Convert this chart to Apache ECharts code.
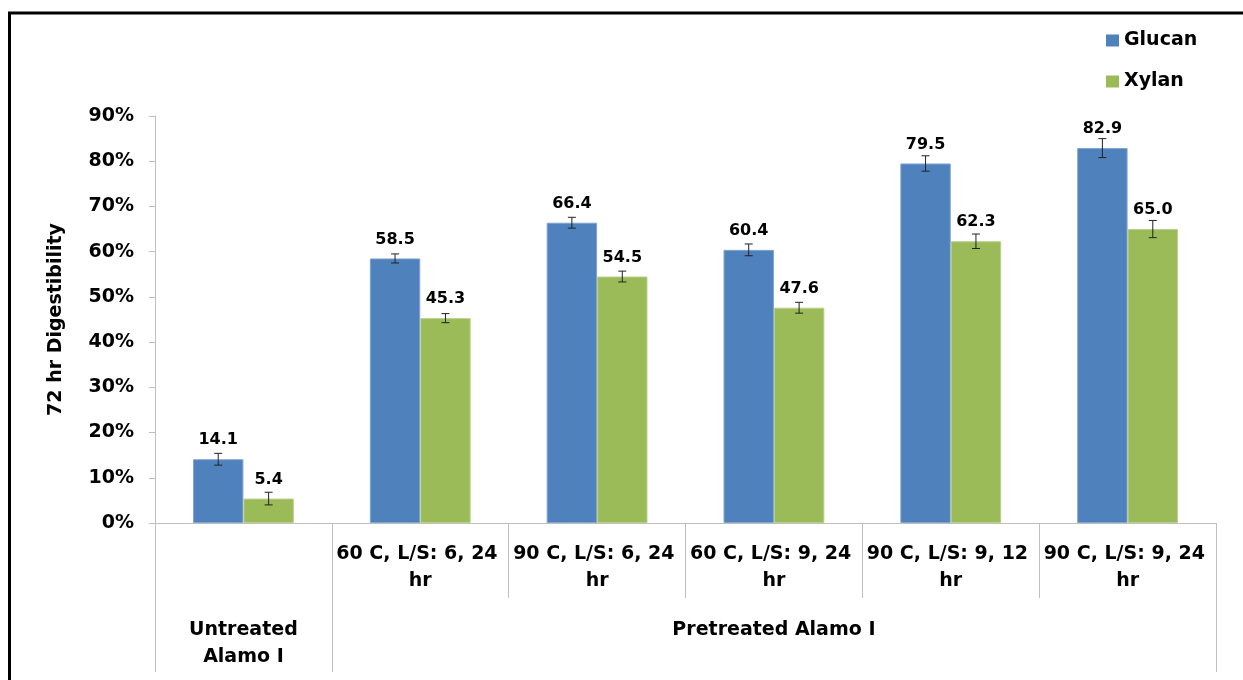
<!DOCTYPE html>
<html>
<head>
<meta charset="utf-8">
<script src="https://cdn.jsdelivr.net/npm/echarts@6/dist/echarts.min.js"></script>
<style>
  html, body { margin: 0; padding: 0; background: #fff; }
  #chart { width: 1243px; height: 680px; }
</style>
</head>
<body>
<div id="chart"></div>
<script>
// Pretreatment conditions (first-level category labels)
const categories = ['', '60 C, L/S: 6, 24 hr', '90 C, L/S: 6, 24 hr', '60 C, L/S: 9, 24 hr', '90 C, L/S: 9, 12 hr', '90 C, L/S: 9, 24 hr'];
// Sample groups: label and number of conditions each spans
const groupLabels = ['Untreated\nAlamo I', 'Pretreated Alamo I'];
const groupSpans = [1, 5];
// 72 hr digestibility (%) and standard deviation
const glucan = [14.1, 58.5, 66.4, 60.4, 79.5, 82.9];
const glucanErr = [1.3, 1.0, 1.2, 1.3, 1.7, 2.1];
const xylan = [5.4, 45.3, 54.5, 47.6, 62.3, 65.0];
const xylanErr = [1.4, 1.0, 1.2, 1.2, 1.6, 1.9];
const yTicks = { min: 0, max: 90, step: 10 };

const FONT = 'DejaVu Sans';
const BAR_GAP = 0.43;
const AXIS_GRAY = '#BFBFBF';

// group boundaries and centres in category units
const groupBounds = [0];
const groupCentres = [];
groupSpans.forEach(s => {
  const start = groupBounds[groupBounds.length - 1];
  groupCentres.push(start + s / 2);
  groupBounds.push(start + s);
});
// boundaries between every condition
const conditionBounds = categories.map((c, i) => i).concat([categories.length]);

function errorBars(values, errs, side) {
  return {
    type: 'custom',
    z: 5,
    silent: true,
    data: values.map((v, i) => [i, v, errs[i]]),
    encode: { x: 0, y: 1 },
    renderItem: function (params, api) {
      const i = api.value(0), v = api.value(1), e = api.value(2);
      const band = api.size([1, 0])[0];
      const barW = band * (1 - BAR_GAP) / 2;
      const x = api.coord([i, v])[0] + side * barW / 2;
      const yHi = api.coord([i, v + e])[1];
      const yLo = api.coord([i, v - e])[1];
      const cap = 4;
      const style = { stroke: '#222', lineWidth: 1 };
      return {
        type: 'group',
        children: [
          { type: 'line', shape: { x1: x, y1: yHi, x2: x, y2: yLo }, style: style },
          { type: 'line', shape: { x1: x - cap, y1: yHi, x2: x + cap, y2: yHi }, style: style },
          { type: 'line', shape: { x1: x - cap, y1: yLo, x2: x + cap, y2: yLo }, style: style }
        ]
      };
    }
  };
}

const labelStyle = {
  show: true,
  position: 'top',
  distance: 11,
  fontFamily: FONT,
  fontWeight: 'bold',
  fontSize: 16,
  color: '#000',
  formatter: p => p.value.toFixed(1)
};

const boldText = { fontFamily: FONT, fontWeight: 'bold', fontSize: 19, color: '#000' };

const chart = echarts.init(document.getElementById('chart'), null, { renderer: 'canvas' });
chart.setOption({
  animation: false,
  backgroundColor: '#fff',
  graphic: [{
    type: 'rect',
    shape: { x: 9.5, y: 13, width: 1400, height: 800 },
    style: { fill: 'none', stroke: '#000', lineWidth: 3 },
    z: 100
  }],
  legend: {
    orient: 'vertical',
    left: 1106,
    top: 31,
    padding: 0,
    itemWidth: 13,
    itemHeight: 12,
    itemGap: 22,
    icon: 'rect',
    itemStyle: { borderWidth: 0 },
    data: ['Glucan', 'Xylan'],
    textStyle: boldText
  },
  grid: { left: 155, right: 27, top: 116, bottom: 157, containLabel: false },
  xAxis: [{
    type: 'category',
    data: categories,
    axisLine: { lineStyle: { color: AXIS_GRAY, width: 1 } },
    axisTick: { show: false },
    axisLabel: Object.assign({
      interval: 0,
      margin: 18,
      lineHeight: 27,
      width: 172,
      overflow: 'break',
      align: 'center'
    }, boldText)
  }, {
    // ticks between the individual conditions
    type: 'value',
    position: 'bottom',
    min: 0,
    max: categories.length,
    axisLine: { show: false },
    splitLine: { show: false },
    axisTick: { show: true, length: 75, customValues: conditionBounds, lineStyle: { color: AXIS_GRAY } },
    axisLabel: { show: false }
  }, {
    // sample group row
    type: 'value',
    position: 'bottom',
    min: 0,
    max: categories.length,
    axisLine: { show: false },
    splitLine: { show: false },
    axisTick: { show: true, length: 149, customValues: groupBounds, lineStyle: { color: AXIS_GRAY } },
    axisLabel: Object.assign({
      customValues: groupCentres,
      margin: 94,
      lineHeight: 27,
      verticalAlign: 'top',
      formatter: v => {
        const k = groupCentres.indexOf(v);
        return k >= 0 ? groupLabels[k] : '';
      }
    }, boldText)
  }],
  yAxis: {
    type: 'value',
    min: yTicks.min,
    max: yTicks.max,
    interval: yTicks.step,
    name: '72 hr Digestibility',
    nameLocation: 'middle',
    nameGap: 89,
    nameRotate: 90,
    nameTextStyle: boldText,
    axisLine: { show: true, lineStyle: { color: AXIS_GRAY, width: 1 } },
    axisTick: { show: true, length: 6, lineStyle: { color: AXIS_GRAY } },
    splitLine: { show: false },
    axisLabel: Object.assign({ margin: 21, formatter: '{value}%' }, boldText)
  },
  series: [{
    name: 'Glucan',
    type: 'bar',
    data: glucan,
    barGap: '0%',
    barCategoryGap: (BAR_GAP * 100) + '%',
    itemStyle: { color: '#4F81BD', borderColor: '#7FA3D2', borderWidth: 1 },
    label: labelStyle,
    z: 2
  }, {
    name: 'Xylan',
    type: 'bar',
    data: xylan,
    itemStyle: { color: '#9BBB59', borderColor: '#B7CF89', borderWidth: 1 },
    label: labelStyle,
    z: 2
  },
  errorBars(glucan, glucanErr, -1),
  errorBars(xylan, xylanErr, 1)
  ]
});
</script>
</body>
</html>
